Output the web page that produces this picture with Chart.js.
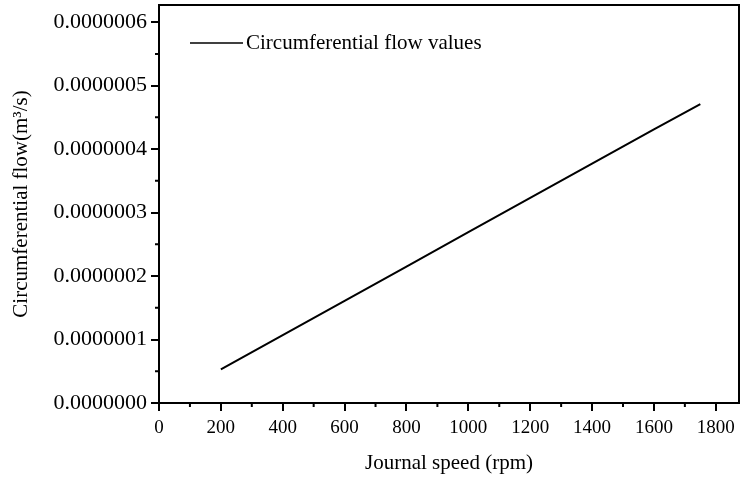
<!DOCTYPE html>
<html lang="en">
<head>
	<meta charset="UTF-8">
	<title>Circumferential flow</title>
	<script src="https://cdn.jsdelivr.net/npm/chart.js"></script>
	<style>
		html, body { margin: 0; padding: 0; background: #fff; }
		#wrap { width: 740px; height: 478px; }
	</style>
</head>
<body>
	<div id="wrap"><canvas id="myChart"></canvas></div>

	<script>
		// data
		const speeds = [200, 400, 600, 800, 1000, 1200, 1400, 1600, 1750];
		const flows = [0.53e-7, 1.07e-7, 1.61e-7, 2.15e-7, 2.69e-7, 3.23e-7, 3.77e-7, 4.31e-7, 4.71e-7];
		const seriesName = "Circumferential flow values";
		const xTicks = [0, 200, 400, 600, 800, 1000, 1200, 1400, 1600, 1800];
		const yTicks = [0, 1e-7, 2e-7, 3e-7, 4e-7, 5e-7, 6e-7];
		const xMinor = [100, 300, 500, 700, 900, 1100, 1300, 1500, 1700];
		const yMinor = [0.5e-7, 1.5e-7, 2.5e-7, 3.5e-7, 4.5e-7, 5.5e-7];

		const serif = "'Liberation Serif', 'Times New Roman', serif";

		// frame, minor ticks and the legend inside the plot
		const framePlugin = {
			id: "frame",
			afterDraw(chart) {
				const ctx = chart.ctx;
				const a = chart.chartArea;
				const xs = chart.scales.x, ys = chart.scales.y;
				ctx.save();
				ctx.strokeStyle = "#000";
				ctx.lineWidth = 2;
				ctx.strokeRect(a.left, a.top, a.right - a.left, a.bottom - a.top);

				ctx.beginPath();
				xMinor.forEach(v => {
					const px = xs.getPixelForValue(v);
					ctx.moveTo(px, a.bottom);
					ctx.lineTo(px, a.bottom + 4);
				});
				yMinor.forEach(v => {
					const py = ys.getPixelForValue(v);
					ctx.moveTo(a.left, py);
					ctx.lineTo(a.left - 4, py);
				});
				ctx.stroke();

				// legend
				ctx.lineWidth = 1.6;
				ctx.beginPath();
				ctx.moveTo(a.left + 31, a.top + 38);
				ctx.lineTo(a.left + 84, a.top + 38);
				ctx.stroke();
				ctx.fillStyle = "#000";
				ctx.font = "21px " + serif;
				ctx.textBaseline = "middle";
				ctx.fillText(chart.data.datasets[0].label, a.left + 87, a.top + 38);
				ctx.restore();
			}
		};

		const data = {
			datasets: [{
				label: seriesName,
				data: speeds.map((s, i) => ({ x: s, y: flows[i] })),
				borderColor: "#000",
				borderWidth: 2,
				pointRadius: 0,
				fill: false,
				tension: 0
			}]
		};

		const config = {
			type: "line",
			data: data,
			plugins: [framePlugin],
			options: {
				responsive: true,
				maintainAspectRatio: false,
				animation: false,
				layout: { padding: { top: 5, right: 1, left: 0, bottom: 0 } },
				plugins: {
					legend: { display: false },
					tooltip: { enabled: false }
				},
				scales: {
					x: {
						type: "linear",
						min: 0,
						max: 1875,
						afterBuildTicks: s => { s.ticks = xTicks.map(v => ({ value: v })); },
						afterFit: s => { s.height = 75; s.paddingLeft = 0; s.paddingRight = 0; },
						grid: { display: true, drawOnChartArea: false, drawTicks: true, tickLength: 8, color: "#000", lineWidth: 2 },
						border: { display: true, color: "#000", width: 2 },
						ticks: { color: "#000", font: { family: serif, size: 19 }, padding: 6, maxRotation: 0, callback: v => String(v) },
						title: { display: true, text: "Journal speed (rpm)", color: "#000", font: { family: serif, size: 21 }, padding: { top: 0, bottom: 2 } }
					},
					y: {
						type: "linear",
						min: 0,
						max: 6.27e-7,
						afterBuildTicks: s => { s.ticks = yTicks.map(v => ({ value: v })); },
						afterFit: s => { s.width = 159; s.paddingTop = 0; s.paddingBottom = 0; },
						grid: { display: true, drawOnChartArea: false, drawTicks: true, tickLength: 8, color: "#000", lineWidth: 2 },
						border: { display: true, color: "#000", width: 2 },
						ticks: { color: "#000", font: { family: serif, size: 22 }, padding: 4, callback: v => v.toFixed(7) },
						title: { display: true, text: "Circumferential flow(m³/s)", color: "#000", font: { family: serif, size: 21 }, padding: { top: 9, bottom: 0 } }
					}
				}
			}
		};

		const myChart = new Chart(document.getElementById("myChart"), config);
	</script>
</body>
</html>
